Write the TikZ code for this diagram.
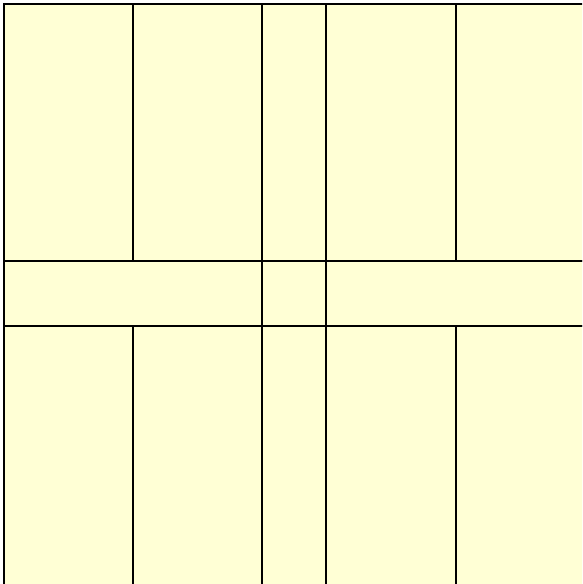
\documentclass[tikz,border=0pt]{standalone}
\definecolor{tilefill}{RGB}{255,255,213}
\begin{document}
\begin{tikzpicture}[x=1pt,y=-1pt,
  tile/.style={fill=tilefill,draw=black,line width=1.1pt}]
\fill[white] (0,0) rectangle (582,584);
\clip (0,0) rectangle (582,584);
\useasboundingbox (0,0) rectangle (582,584);
% top row
\draw[tile] (4,4) rectangle (133,261);
\draw[tile] (133,4) rectangle (262,261);
\draw[tile] (262,4) rectangle (326,261);
\draw[tile] (326,4) rectangle (456,261);
\draw[tile] (456,4) rectangle (590,261);
% middle row
\draw[tile] (4,261) rectangle (262,326);
\draw[tile] (262,261) rectangle (326,326);
\draw[tile] (326,261) rectangle (590,326);
% bottom row
\draw[tile] (4,326) rectangle (133,592);
\draw[tile] (133,326) rectangle (262,592);
\draw[tile] (262,326) rectangle (326,592);
\draw[tile] (326,326) rectangle (456,592);
\draw[tile] (456,326) rectangle (590,592);
\end{tikzpicture}
\end{document}
